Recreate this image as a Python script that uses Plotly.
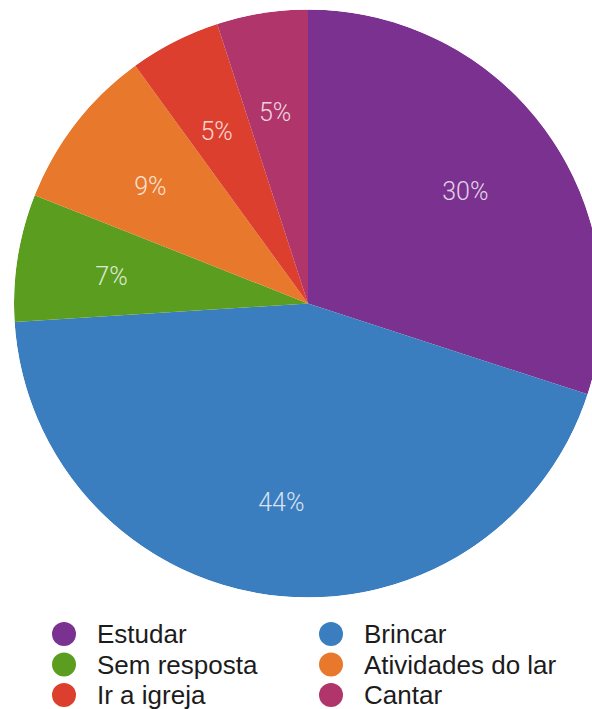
import numpy as np
import plotly.graph_objects as go

# Survey answers: share of children per activity (percent)
activities = ["Estudar", "Brincar", "Sem resposta", "Atividades do lar", "Ir a igreja", "Cantar"]
shares = [30, 44, 7, 9, 5, 5]
slice_colors = ["#7B3190", "#3B7EC0", "#5B9E1F", "#E8782B", "#DD3F2F", "#B0356B"]
percent_labels = [f"{v}%" for v in shares]

# Wedge geometry derived from the shares (clockwise from 12 o'clock)
vals = np.array(shares, dtype=float)
deg_per_unit = 360.0 / vals.sum()
starts = np.concatenate([[0.0], np.cumsum(vals)[:-1]])
theta_mid = (starts + vals / 2.0) * deg_per_unit
wedge_width = vals * deg_per_unit

# Legend grid: two columns, filled row by row
leg_col = [i % 2 for i in range(len(activities))]
leg_row = [i // 2 for i in range(len(activities))]

W, H = 616, 709

fig = go.Figure()

fig.add_trace(go.Barpolar(
    r=[1.0] * len(shares),
    theta=theta_mid,
    width=wedge_width,
    marker=dict(color=slice_colors, line=dict(width=0)),
    hoverinfo="skip",
    showlegend=False,
))

# Percent labels live on a transparent overlay polar with the same radius,
# nudged a little down so the digits sit where the text baseline expects
fig.add_trace(go.Scatterpolar(
    r=[0.67] * len(shares),
    theta=theta_mid,
    mode="text",
    text=percent_labels,
    textfont=dict(size=25, color="rgba(255,255,255,0.80)", family="Roboto", weight=300),
    hoverinfo="skip",
    showlegend=False,
    subplot="polar2",
))

fig.add_trace(go.Scatter(
    x=leg_col,
    y=leg_row,
    mode="markers",
    marker=dict(size=24, color=slice_colors, line=dict(width=0)),
    hoverinfo="skip",
    showlegend=False,
    xaxis="x",
    yaxis="y",
))

for name, c, r in zip(activities, leg_col, leg_row):
    fig.add_annotation(
        x=c, y=r, xref="x", yref="y",
        text=name, showarrow=False,
        xanchor="left", yanchor="middle", xshift=31,
        font=dict(size=26, color="#1c1c1c", family="Liberation Sans"),
    )

hidden_polar = dict(
    bgcolor="rgba(0,0,0,0)",
    bargap=0,
    hole=0,
    angularaxis=dict(rotation=90, direction="clockwise", visible=False),
    radialaxis=dict(range=[0, 1], visible=False),
)

fig.update_layout(
    width=W,
    height=H,
    margin=dict(l=0, r=0, t=0, b=0),
    paper_bgcolor="white",
    plot_bgcolor="rgba(0,0,0,0)",
    showlegend=False,
    polar=dict(domain=dict(x=[0, 1], y=[1 - 597.5 / H, 1 - 9.5 / H]), **hidden_polar),
    polar2=dict(domain=dict(x=[0, 612 / W], y=[1 - 603.5 / H, 1 - 15.5 / H]), **hidden_polar),
    xaxis=dict(range=[-64 / 267, (W - 64) / 267], visible=False, fixedrange=True),
    yaxis=dict(range=[(H - 634) / 30.5, -634 / 30.5], visible=False, fixedrange=True),
)

fig.write_html(
    "out.html",
    config={"displayModeBar": False},
    post_script="document.documentElement.style.overflow='hidden';document.body.style.overflow='hidden';",
)
